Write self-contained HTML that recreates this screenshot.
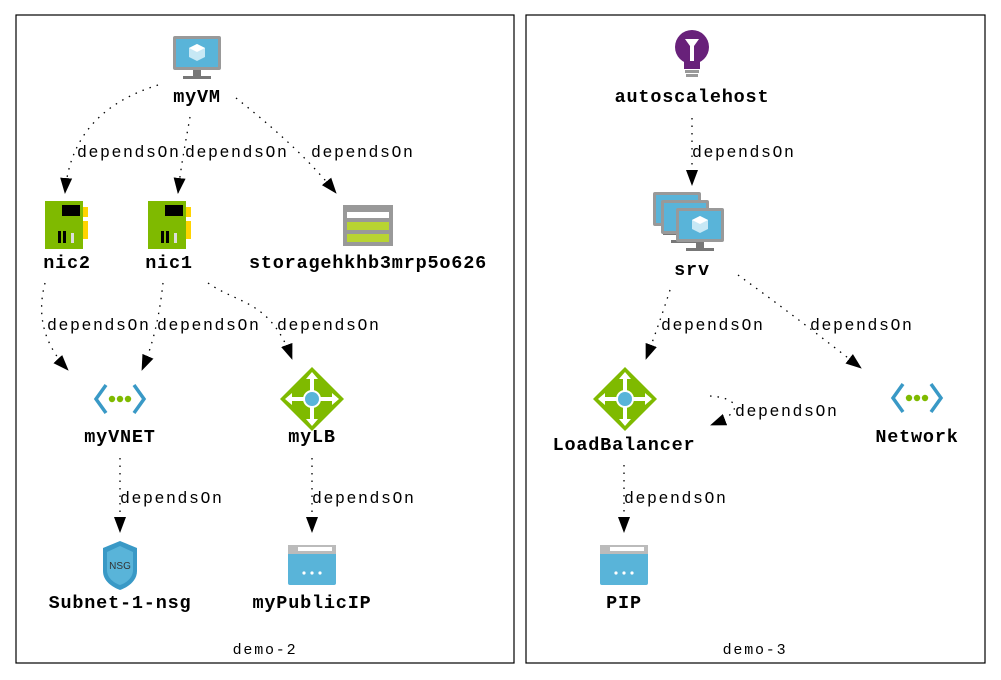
<!DOCTYPE html>
<html><head><meta charset="utf-8"><style>
html,body{margin:0;padding:0;background:#fff}
svg{display:block}
.n{font-family:"Liberation Mono",monospace;font-weight:bold;font-size:18.5px;letter-spacing:0.8px;text-anchor:middle;fill:#000}
.e{font-family:"Liberation Mono",monospace;font-size:16.5px;letter-spacing:1.6px;fill:#000}
.c{font-family:"Liberation Mono",monospace;font-size:15px;letter-spacing:1.8px;text-anchor:middle;fill:#000}
.l{fill:none;stroke:#000;stroke-width:1.3;stroke-dasharray:1.5 6;marker-end:url(#a)}
</style></head><body>
<svg width="1001" height="680" viewBox="0 0 1001 680">
<defs>
<marker id="a" markerWidth="16" markerHeight="14" refX="15" refY="7" orient="auto" markerUnits="userSpaceOnUse" viewBox="0 0 16 14"><path d="M0,1 L16,7 L0,13 z" fill="#000"/></marker>
<g id="vm"><rect x="-24" y="-22" width="48" height="34" rx="2" fill="#999"/><rect x="-21" y="-19" width="42" height="28" fill="#59b4d9"/><rect x="-4" y="12" width="8" height="6" fill="#777"/><rect x="-14" y="18" width="28" height="3" fill="#777"/><path d="M0,-14 l8,4 v9 l-8,4 l-8,-4 v-9z" fill="#c7e8f5"/><path d="M0,-14 l8,4 l-8,4 l-8,-4z" fill="#fff"/></g>
<g id="nic"><rect x="-21" y="-24" width="38" height="48" fill="#7fba00"/><rect x="17" y="-18" width="5" height="10" fill="#ffd400"/><rect x="17" y="-4" width="5" height="18" fill="#ffd400"/><rect x="-4" y="-20" width="18" height="11" fill="#000"/><rect x="-8" y="6" width="3" height="12" fill="#000"/><rect x="-3" y="6" width="3" height="12" fill="#000"/><rect x="5" y="8" width="3" height="10" fill="#ddd"/></g>
<g id="vnet"><path d="M-14,-14 L-24,0 L-14,14 M14,-14 L24,0 L14,14" fill="none" stroke="#3999c6" stroke-width="3.5"/><circle cx="-8" cy="0" r="3.2" fill="#7fba00"/><circle cx="0" cy="0" r="3.2" fill="#7fba00"/><circle cx="8" cy="0" r="3.2" fill="#7fba00"/></g>
<g id="lb"><path d="M0,-32 L32,0 L0,32 L-32,0z" fill="#7fba00"/><path d="M0,-24 V24 M-24,0 H24" stroke="#fff" stroke-width="4"/><path d="M0,-27 l-6,7 h12z M0,27 l-6,-7 h12z M-27,0 l7,-6 v12z M27,0 l-7,-6 v12z" fill="#fff"/><circle r="9" fill="#fff"/><circle r="7" fill="#59b4d9"/></g>
<g id="pip"><rect x="-24" y="-20" width="48" height="40" rx="2" fill="#59b4d9"/><rect x="-24" y="-20" width="48" height="9" fill="#bbb"/><rect x="-14" y="-18" width="34" height="4" fill="#fff"/><circle cx="-8" cy="8" r="1.6" fill="#fff"/><circle cx="0" cy="8" r="1.6" fill="#fff"/><circle cx="8" cy="8" r="1.6" fill="#fff"/></g>
</defs>
<rect x="16" y="15" width="498" height="648" fill="none" stroke="#000" stroke-width="1.2"/>
<rect x="526" y="15" width="459" height="648" fill="none" stroke="#000" stroke-width="1.2"/>
<text class="c" x="265" y="654">demo-2</text>
<text class="c" x="755" y="654">demo-3</text>

<path class="l" d="M158,85 C110,100 70,130 65,193"/>
<path class="l" d="M190,117 C186,140 181,165 178,193"/>
<path class="l" d="M236,98 C270,125 305,155 336,193"/>
<path class="l" d="M45,283 C38,310 40,340 68,370"/>
<path class="l" d="M163,283 C160,310 155,340 142,370"/>
<path class="l" d="M208,283 C240,305 270,300 292,359"/>
<path class="l" d="M120,458 V532"/>
<path class="l" d="M312,458 V532"/>
<path class="l" d="M692,118 V185"/>
<path class="l" d="M670,290 C662,315 655,335 646,359"/>
<path class="l" d="M738,275 C780,305 825,340 861,368"/>
<path class="l" d="M710,396 C740,398 745,412 711,425"/>
<path class="l" d="M624,465 V532"/>

<text class="e" x="77" y="157">dependsOn</text>
<text class="e" x="185" y="157">dependsOn</text>
<text class="e" x="311" y="157">dependsOn</text>
<text class="e" x="47" y="330">dependsOn</text>
<text class="e" x="157" y="330">dependsOn</text>
<text class="e" x="277" y="330">dependsOn</text>
<text class="e" x="120" y="503">dependsOn</text>
<text class="e" x="312" y="503">dependsOn</text>
<text class="e" x="692" y="157">dependsOn</text>
<text class="e" x="661" y="330">dependsOn</text>
<text class="e" x="810" y="330">dependsOn</text>
<text class="e" x="735" y="416">dependsOn</text>
<text class="e" x="624" y="503">dependsOn</text>

<use href="#vm" x="197" y="58"/><text class="n" x="197" y="102">myVM</text>
<use href="#nic" x="66" y="225"/><text class="n" x="67" y="268">nic2</text>
<use href="#nic" x="169" y="225"/><text class="n" x="169" y="268">nic1</text>
<g transform="translate(368,225)"><rect x="-25" y="-20" width="50" height="41" fill="#999"/><rect x="-21" y="-13" width="42" height="6" fill="#fff"/><rect x="-21" y="-3" width="42" height="8" fill="#b8d432"/><rect x="-21" y="9" width="42" height="8" fill="#b8d432"/></g>
<text class="n" x="368" y="268">storagehkhb3mrp5o626</text>
<use href="#vnet" x="120" y="399"/><text class="n" x="120" y="442">myVNET</text>
<use href="#lb" x="312" y="399"/><text class="n" x="312" y="442">myLB</text>
<g transform="translate(120,565)"><path d="M0,-24 L17,-17 V6 C17,16 8,22 0,25 C-8,22 -17,16 -17,6 V-17z" fill="#3999c6"/><path d="M0,-19 L13,-13 V5 C13,13 6,18 0,20 C-6,18 -13,13 -13,5 V-13z" fill="#59b4d9"/><text x="0" y="4" font-family="Liberation Sans,sans-serif" font-size="10" text-anchor="middle" fill="#333">NSG</text></g>
<text class="n" x="120" y="608">Subnet-1-nsg</text>
<use href="#pip" x="312" y="565"/><text class="n" x="312" y="608">myPublicIP</text>

<g transform="translate(692,53)"><circle cx="0" cy="-6" r="17" fill="#68217a"/><rect x="-8" y="8" width="16" height="8" fill="#68217a"/><rect x="-7" y="17" width="14" height="3" fill="#999"/><rect x="-6" y="21" width="12" height="3" fill="#999"/><path d="M-7,-14 H7 L2,-7 V8 H-2 V-7z" fill="#fff"/></g>
<text class="n" x="692" y="102">autoscalehost</text>
<use href="#vm" x="677" y="214"/>
<use href="#vm" x="685" y="222"/>
<use href="#vm" x="700" y="230"/>
<text class="n" x="692" y="275">srv</text>
<use href="#lb" x="625" y="399"/><text class="n" x="624" y="450">LoadBalancer</text>
<use href="#vnet" x="917" y="398"/><text class="n" x="917" y="442">Network</text>
<use href="#pip" x="624" y="565"/><text class="n" x="624" y="608">PIP</text>
</svg>
</body></html>
